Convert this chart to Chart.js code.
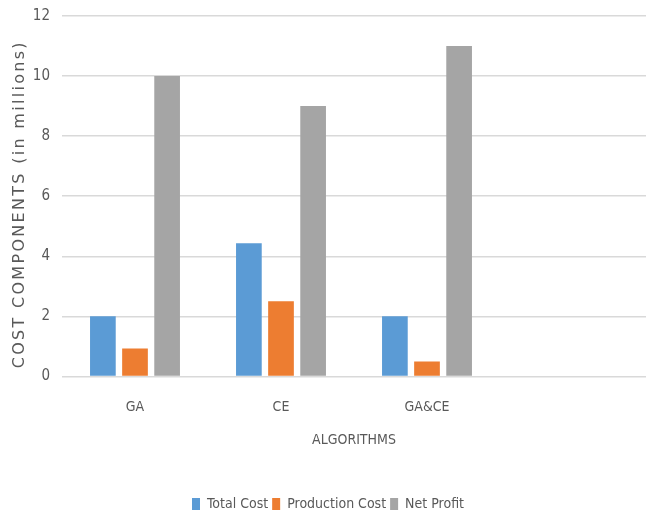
<!DOCTYPE html>
<html>
<head>
<script src="https://cdn.jsdelivr.net/npm/chart.js@4.4.1/dist/chart.umd.min.js"></script>
<style>
  body { margin: 0; background: #fff; }
  #wrap { width: 653px; height: 515px; }
</style>
</head>
<body>
<div id="wrap"><canvas id="myChart"></canvas></div>
<script>
// chart data
const algorithms = ['GA', 'CE', 'GA&CE', ''];
const totalCost = [2, 4.43, 2, null];
const productionCost = [0.93, 2.5, 0.5, null];
const netProfit = [10, 9, 11, null];
const yTicks = [0, 2, 4, 6, 8, 10, 12];

const narrow = '"DejaVu Sans Condensed", "Liberation Sans", Arial, sans-serif';
const wide = '"DejaVu Sans", Verdana, sans-serif';
const txt = '#595959';

// fixed y axis width, top padding, and spaced-out letters in its title
function fixYAxis(axis) {
  axis.width = 52;
  axis.paddingTop = 16;
  if (axis._spaced) return;
  const orig = axis.drawTitle.bind(axis);
  axis.drawTitle = function () {
    const c = this.ctx;
    c.save();
    c.translate(0, 8);
    c.letterSpacing = '2.3px';
    orig();
    c.restore();
  };
  axis._spaced = true;
}

const ctx = document.getElementById('myChart');
const chart = new Chart(ctx, {
  type: 'bar',
  data: {
    labels: algorithms,
    datasets: [
      { label: 'Total Cost', data: totalCost, backgroundColor: '#5B9BD5' },
      { label: 'Production Cost', data: productionCost, backgroundColor: '#ED7D31' },
      { label: 'Net Profit', data: netProfit, backgroundColor: '#A5A5A5' }
    ]
  },
  options: {
    responsive: true,
    maintainAspectRatio: false,
    animation: false,
    categoryPercentage: 0.66,
    barPercentage: 0.8,
    layout: { padding: { top: 0, right: 7, left: 10, bottom: -6 } },
    plugins: {
      tooltip: { enabled: false },
      legend: {
        position: 'bottom',
        labels: {
          color: txt,
          font: { family: narrow, size: 14 },
          boxWidth: 8,
          boxHeight: 12,
          padding: 4
        }
      }
    },
    scales: {
      x: {
        grid: { display: false },
        border: { display: false },
        ticks: { color: txt, font: { family: narrow, size: 14 }, padding: 15 },
        title: {
          display: true,
          text: 'ALGORITHMS',
          color: txt,
          font: { family: narrow, size: 14 },
          padding: { top: 1, bottom: 44 }
        }
      },
      y: {
        min: 0,
        max: 12,
        afterBuildTicks: (axis) => { axis.ticks = yTicks.map(v => ({ value: v })); },
        afterFit: fixYAxis,
        grid: { color: '#d9d9d9', lineWidth: 1.5, drawTicks: false },
        border: { display: false },
        ticks: { color: txt, font: { family: narrow, size: 15 }, padding: 12 },
        title: {
          display: true,
          text: 'COST COMPONENTS (in millions)',
          color: txt,
          font: { family: wide, size: 16 },
          padding: { top: 0, bottom: 0 }
        }
      }
    }
  }
});
</script>
</body>
</html>
